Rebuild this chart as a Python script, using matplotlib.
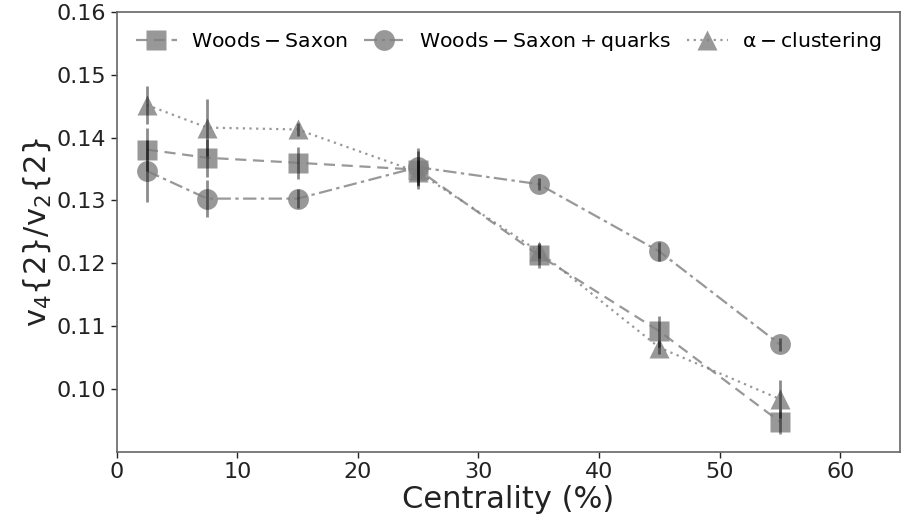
import matplotlib
matplotlib.use("Agg")
import matplotlib.pyplot as plt

centrality = [2.5, 7.5, 15, 25, 35, 45, 55]

ws = [0.1381, 0.1368, 0.1360, 0.1349, 0.1213, 0.1092, 0.0948]
ws_err = [0.0034, 0.0030, 0.0025, 0.0030, 0.0020, 0.0025, 0.0020]

wsq = [0.1347, 0.1303, 0.1303, 0.1353, 0.1326, 0.1219, 0.1071]
wsq_err = [0.0050, 0.0030, 0.0015, 0.0030, 0.0010, 0.0015, 0.0010]

alpha_cl = [0.1452, 0.1416, 0.1413, 0.1345, 0.1219, 0.1066, 0.0984]
alpha_err = [0.0030, 0.0045, 0.0010, 0.0020, 0.0010, 0.0010, 0.0030]

labels = [r'$\mathrm{Woods-Saxon}$', r'$\mathrm{Woods-Saxon+quarks}$', r'$\mathrm{\alpha-clustering}$']
xticks = [0, 10, 20, 30, 40, 50, 60]
yticks = [0.10, 0.11, 0.12, 0.13, 0.14, 0.15, 0.16]

fig = plt.figure(figsize=(9.05, 5.2), dpi=100)
ax = fig.add_axes([0.129, 0.131, 0.866, 0.846])

series = [(ws, ws_err, 's', (0, (5, 3))),
          (wsq, wsq_err, 'o', (0, (6, 2, 1.5, 2))),
          (alpha_cl, alpha_err, '^', (0, (1, 2)))]

handles = []
for (y, e, m, ls), lab in zip(series, labels):
    ax.errorbar(centrality, y, yerr=e, fmt='none', ecolor='black', elinewidth=2.0, alpha=0.45, zorder=3)
    h, = ax.plot(centrality, y, marker=m, markersize=15, linestyle=ls, color='#7f7f7f',
                 markerfacecolor='#7f7f7f', markeredgecolor='none', alpha=0.8, lw=1.6, label=lab, zorder=2)
    handles.append(h)

ax.set_xlim(0, 65)
ax.set_ylim(0.09, 0.16)
ax.set_xticks(xticks)
ax.set_yticks(yticks)
ax.set_yticklabels([f'{v:.2f}' for v in yticks])
ax.tick_params(labelsize=16, colors='#222222', length=4, width=1, direction='out')
for s in ax.spines.values():
    s.set_color('#666666')
    s.set_linewidth(1.2)
ax.set_xlabel('Centrality (%)', fontsize=22, color='#222222', labelpad=2)
ax.set_ylabel(r'$\mathrm{v_4\{2\}/v_2\{2\}}$', fontsize=22, color='#222222', labelpad=3)
leg = ax.legend(handles=handles, ncol=3, loc='upper center', frameon=False, fontsize=14.7,
                handlelength=2.0, columnspacing=0.8, handletextpad=0.7, markerscale=1.0,
                bbox_to_anchor=(0.5, 1.0))
fig.savefig('out.png', dpi=100)
